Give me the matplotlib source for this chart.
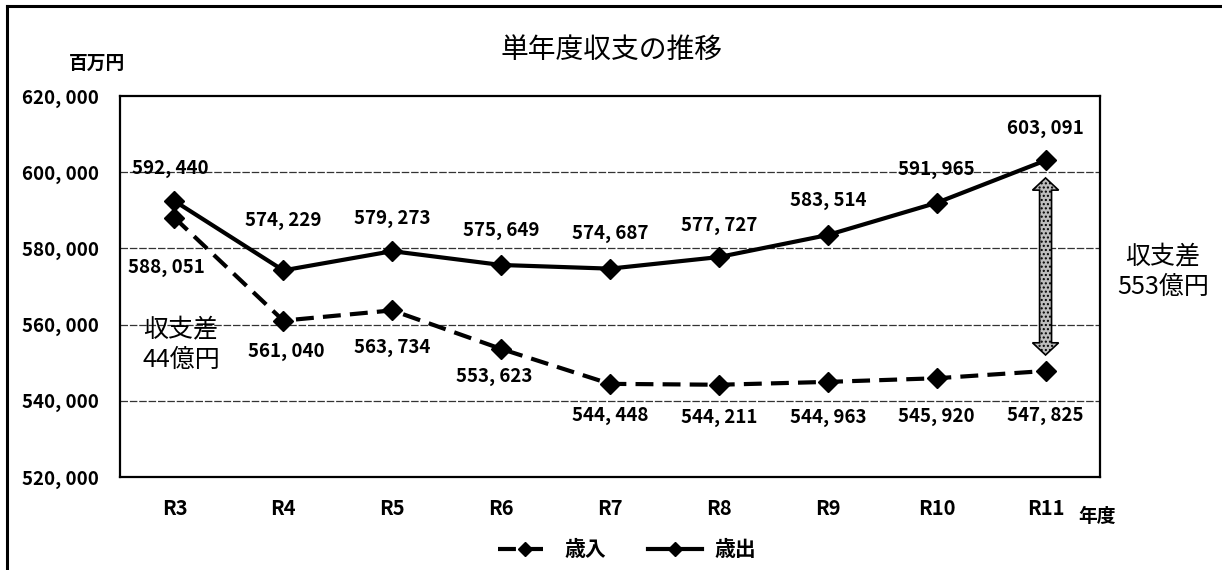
import matplotlib.pyplot as plt
import numpy as np
from matplotlib.lines import Line2D
from matplotlib.patches import Polygon

plt.rcParams['font.family'] = ['Noto Sans CJK JP', 'DejaVu Sans']

# data (百万円)
years = ["R3", "R4", "R5", "R6", "R7", "R8", "R9", "R10", "R11"]
revenue = [588051, 561040, 563734, 553623, 544448, 544211, 544963, 545920, 547825]      # 歳入
expenditure = [592440, 574229, 579273, 575649, 574687, 577727, 583514, 591965, 603091]  # 歳出
y_ticks = [520000, 540000, 560000, 580000, 600000, 620000]

# label offsets in pixels (dx, dy)
exp_off = [(-4, 33), (0, 50), (0, 33), (0, 34), (0, 35), (0, 32), (0, 35), (0, 33), (0, 32)]
rev_off = [(-8, -50), (3, -31), (0, -37), (-7, -28), (0, -32), (0, -33), (0, -36), (0, -38), (0, -45)]

fig = plt.figure(figsize=(12.22, 5.70), dpi=100)
ax = fig.add_axes([120 / 1222, 93 / 570, 980 / 1222, 381 / 570])

x = np.arange(len(years))
ax.plot(x, revenue, color="black", lw=3, dashes=(4.3, 2.2), marker="D", markersize=10,
        label="歳入", zorder=3)
ax.plot(x, expenditure, color="black", lw=3, marker="D", markersize=10,
        label="歳出", zorder=3)

fmt = lambda v: f"{v:,}".replace(",", ", ")
for i in range(len(years)):
    ax.annotate(fmt(expenditure[i]), (x[i], expenditure[i]), xytext=exp_off[i],
                textcoords="offset pixels", ha="center", va="center",
                fontsize=13.5, fontweight="bold")
    ax.annotate(fmt(revenue[i]), (x[i], revenue[i]), xytext=rev_off[i],
                textcoords="offset pixels", ha="center", va="center",
                fontsize=13.5, fontweight="bold")

ax.set_xlim(-0.5, len(years) - 0.5)
ax.set_ylim(y_ticks[0], y_ticks[-1])
ax.set_yticks(y_ticks)
ax.set_yticklabels([fmt(v) for v in y_ticks], fontsize=13.5, fontweight="bold")
ax.set_xticks(x)
ax.set_xticklabels(years, fontsize=14.5, fontweight="bold")
ax.tick_params(length=0)
ax.tick_params(axis="y", pad=15)
ax.tick_params(axis="x", pad=15)
for s in ax.spines.values():
    s.set_linewidth(1.6)
for v in y_ticks[1:-1]:
    ax.axhline(v, color="#333333", lw=0.9, ls=(0, (6, 1.5)), zorder=1)

# double arrow between 歳出 and 歳入 at R11
xa = x[-1]
top = expenditure[-1] - 4600
bot = revenue[-1] + 4200
hl, hw, sw = 3200, 0.12, 0.055
arrow_pts = [(xa, top), (xa + hw, top - hl), (xa + sw, top - hl), (xa + sw, bot + hl),
             (xa + hw, bot + hl), (xa, bot), (xa - hw, bot + hl), (xa - sw, bot + hl),
             (xa - sw, top - hl), (xa - hw, top - hl)]
ax.add_patch(Polygon(arrow_pts, closed=True, facecolor="#bdbdbd", edgecolor="black",
                     lw=1.2, hatch="....", zorder=4))

fig.text(0.5, 1 - 50 / 570, "単年度収支の推移", ha="center", va="center", fontsize=20)
fig.text(97 / 1222, 1 - 63 / 570, "百万円", ha="center", va="center", fontsize=13.5,
         fontweight="bold")
fig.text(1097 / 1222, 1 - 516 / 570, "年度", ha="center", va="center", fontsize=13.5,
         fontweight="bold")
fig.text(181 / 1222, 1 - 345 / 570, "収支差\n44億円", ha="center", va="center",
         fontsize=18, linespacing=1.15)
fig.text(1163 / 1222, 1 - 272 / 570, "収支差\n553億円", ha="center", va="center",
         fontsize=18, linespacing=1.15)

fig.legend(loc="center", bbox_to_anchor=(627 / 1222, 1 - 550 / 570), ncol=2,
           frameon=False, handlelength=2.6, columnspacing=2.0,
           handletextpad=0.6, markerscale=0.75, prop={"weight": "bold", "size": 15})

# outer frame (top and left only visible in the scan)
fig.add_artist(Line2D([7 / 1222, 1], [1 - 6 / 570, 1 - 6 / 570], color="black", lw=2.2))
fig.add_artist(Line2D([7 / 1222, 7 / 1222], [0, 1 - 6 / 570], color="black", lw=2.2))

fig.savefig("out.png", dpi=100)
